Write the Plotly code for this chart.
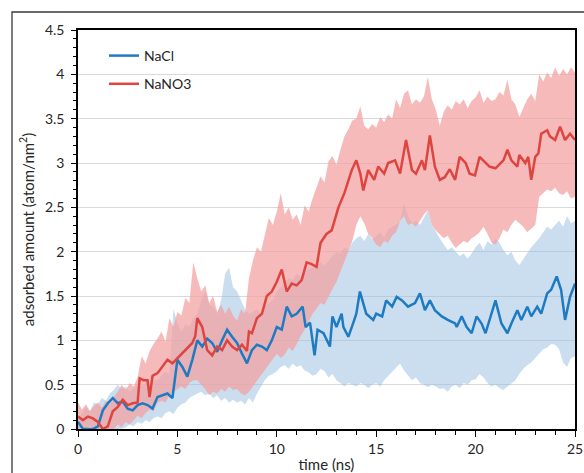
import numpy as np
import plotly.graph_objects as go

# ---------------- data ----------------
band_t = np.round(np.arange(0, 25.001, 0.2), 1)

nano3_upper = [
    0.30, 0.22, 0.28, 0.20, 0.26, 0.30, 0.24, 0.32, 0.28, 0.36,
    0.42, 0.50, 0.44, 0.52, 0.48, 0.58, 0.82, 0.74, 0.88, 0.96,
    1.02, 1.10, 0.98, 1.25, 1.15, 1.32, 1.28, 1.48, 1.42, 1.88,
    1.70, 1.55, 1.62, 1.42, 1.50, 1.32, 1.40, 1.30, 1.38, 1.28,
    1.22, 1.35, 1.30, 1.70, 1.90, 2.05, 2.00, 2.20, 2.38, 2.30,
    2.45, 2.66, 2.42, 2.50, 2.36, 2.42, 2.30, 2.52, 2.45, 2.60,
    2.72, 2.85, 2.78, 3.02, 3.08, 2.98, 3.15, 3.30, 3.38, 3.48,
    3.50, 3.64, 3.42, 3.38, 3.44, 3.40, 3.52, 3.46, 3.55, 3.50,
    3.72, 3.62, 3.78, 3.82, 3.66, 3.72, 3.68, 3.75, 3.97, 3.72,
    3.60, 3.42, 3.58, 3.65, 3.60, 3.70, 3.66, 3.72, 3.62, 3.70,
    3.74, 3.82, 3.68, 3.75, 3.70, 3.72, 3.80, 3.76, 3.94, 3.72,
    3.66, 3.52, 3.62, 3.72, 3.78, 3.70, 4.00, 3.92, 4.02, 3.96,
    4.08, 3.98, 4.06, 4.00, 4.08, 4.02,
]
nano3_lower = [
    0.00, 0.02, 0.00, 0.03, 0.00, 0.00, 0.00, 0.00, 0.00, 0.00,
    0.05, 0.02, 0.08, 0.05, 0.10, 0.15, 0.12, 0.18, 0.22, 0.20,
    0.30, 0.32, 0.30, 0.38, 0.42, 0.45, 0.48, 0.45, 0.52, 0.55,
    0.55, 0.50, 0.45, 0.38, 0.42, 0.40, 0.45, 0.42, 0.48, 0.44,
    0.45, 0.40, 0.38, 0.42, 0.48, 0.55, 0.60, 0.66, 0.72, 0.78,
    0.85, 0.80, 0.84, 0.92, 0.88, 0.96, 1.05, 1.12, 1.22, 1.30,
    1.36, 1.42, 1.40, 1.50, 1.58, 1.66, 1.78, 1.90, 2.02, 2.12,
    2.30, 2.40, 2.32, 2.20, 2.15, 2.08, 2.05, 2.12, 2.10, 2.18,
    2.22, 2.35, 2.40, 2.30, 2.32, 2.28, 2.35, 2.42, 2.47, 2.30,
    2.24, 2.20, 2.15, 2.18, 2.10, 2.04, 2.08, 2.12, 2.10, 2.15,
    2.18, 2.22, 2.28, 2.20, 2.10, 2.08, 2.15, 2.25, 2.22, 2.30,
    2.36, 2.32, 2.28, 2.22, 2.26, 2.30, 2.62, 2.66, 2.70, 2.68,
    2.72, 2.66, 2.64, 2.68, 2.60, 2.62,
]
nacl_upper = [
    0.10, 0.18, 0.25, 0.20, 0.30, 0.28, 0.35, 0.32, 0.40, 0.44,
    0.50, 0.45, 0.48, 0.42, 0.46, 0.50, 0.48, 0.52, 0.50, 0.55,
    0.55, 0.60, 0.65, 0.62, 1.35, 1.20, 1.10, 1.18, 1.15, 1.25,
    1.30, 1.45, 1.55, 1.40, 1.38, 1.30, 1.45, 1.75, 1.82, 1.60,
    1.55, 1.45, 1.35, 1.30, 1.32, 1.35, 1.30, 1.38, 1.42, 1.45,
    1.55, 1.60, 1.65, 1.70, 1.68, 1.75, 1.72, 1.78, 1.80, 1.82,
    1.85, 1.88, 1.84, 1.90, 1.95, 2.00, 1.98, 2.05, 2.02, 2.10,
    2.15, 2.18, 2.12, 2.20, 2.14, 2.18, 2.22, 2.16, 2.25, 2.28,
    2.30, 2.35, 2.55, 2.40, 2.32, 2.35, 2.30, 2.38, 2.47, 2.30,
    2.22, 2.15, 2.08, 2.02, 2.05, 2.00, 1.95, 1.98, 1.92, 1.98,
    2.05, 2.10, 2.02, 2.12, 2.08, 2.15, 2.10, 2.02, 1.96, 2.00,
    1.90, 1.85, 1.92, 1.98, 2.05, 2.10, 2.15, 2.22, 2.28, 2.25,
    2.30, 2.35, 2.28, 2.40, 2.32, 2.35,
]
nacl_lower = [
    0.00, 0.00, 0.00, 0.00, 0.00, 0.00, 0.00, 0.00, 0.00, 0.00,
    0.00, 0.00, 0.02, 0.05, 0.03, 0.08, 0.06, 0.10, 0.08, 0.12,
    0.14, 0.12, 0.18, 0.20, 0.17, 0.24, 0.28, 0.30, 0.35, 0.38,
    0.40, 0.42, 0.38, 0.40, 0.35, 0.38, 0.32, 0.35, 0.30, 0.33,
    0.30, 0.32, 0.28, 0.35, 0.30, 0.40, 0.48, 0.55, 0.60, 0.62,
    0.65, 0.70, 0.72, 0.68, 0.74, 0.70, 0.72, 0.66, 0.64, 0.60,
    0.62, 0.68, 0.65, 0.58, 0.62, 0.55, 0.52, 0.48, 0.52, 0.50,
    0.48, 0.52, 0.50, 0.46, 0.50, 0.52, 0.48, 0.55, 0.60, 0.65,
    0.70, 0.74, 0.66, 0.60, 0.55, 0.58, 0.52, 0.50, 0.47, 0.50,
    0.48, 0.45, 0.46, 0.42, 0.48, 0.50, 0.46, 0.52, 0.50, 0.55,
    0.56, 0.62, 0.58, 0.52, 0.48, 0.50, 0.46, 0.44, 0.48, 0.52,
    0.55, 0.62, 0.68, 0.72, 0.75, 0.80, 0.85, 0.90, 0.92, 0.96,
    0.95, 0.90, 0.75, 0.70, 0.80, 0.82,
]

nano3_t = [0, 0.25, 0.5, 0.75, 1.0, 1.25, 1.5, 1.75, 2.0, 2.25, 2.5, 2.75, 3.0, 3.1, 3.3, 3.5,
           3.6, 3.75, 4.0, 4.25, 4.5, 4.75, 5.0, 5.25, 5.5, 5.75, 5.9, 6.0, 6.25, 6.5, 6.75,
           7.0, 7.25, 7.5, 7.75, 8.0, 8.25, 8.5, 8.6, 8.75, 9.0, 9.25, 9.5, 9.75, 10.0, 10.25,
           10.5, 10.75, 11.0, 11.25, 11.5, 11.75, 12.0, 12.2, 12.5, 12.76, 13.1, 13.4, 13.77,
           14.0, 14.2, 14.35, 14.6, 14.9, 15.1, 15.4, 15.6, 15.95, 16.2, 16.5, 16.8, 17.0,
           17.3, 17.45, 17.7, 17.95, 18.2, 18.45, 18.7, 18.97, 19.2, 19.5, 19.7, 19.97, 20.2,
           20.5, 20.7, 21.0, 21.4, 21.6, 21.8, 22.1, 22.2, 22.5, 22.65, 22.8, 23.0, 23.16,
           23.3, 23.6, 23.74, 24.0, 24.25, 24.5, 24.75, 25.0]
nano3_mean = [0.14, 0.10, 0.14, 0.12, 0.08, 0.0, 0.03, 0.20, 0.25, 0.33, 0.27, 0.29, 0.30, 0.57,
              0.55, 0.55, 0.36, 0.60, 0.63, 0.70, 0.78, 0.74, 0.80, 0.85, 0.91, 0.97, 1.05, 1.25,
              1.15, 0.89, 0.83, 0.93, 0.89, 1.00, 0.93, 0.89, 0.95, 0.88, 1.10, 1.08, 1.25, 1.30,
              1.50, 1.55, 1.66, 1.80, 1.55, 1.64, 1.62, 1.68, 1.88, 1.86, 1.83, 2.10, 2.20, 2.24,
              2.50, 2.66, 2.92, 3.03, 2.88, 2.69, 2.92, 2.81, 2.96, 2.88, 3.00, 3.03, 2.88, 3.26,
              2.92, 2.88, 3.03, 2.92, 3.31, 2.96, 2.81, 2.84, 2.93, 2.81, 3.07, 3.00, 2.88, 2.86,
              3.07, 3.00, 2.96, 2.94, 3.03, 3.15, 3.03, 2.96, 3.09, 3.00, 3.07, 2.81, 3.07, 3.11,
              3.33, 3.37, 3.30, 3.26, 3.41, 3.26, 3.33, 3.26]

nacl_t = [0, 0.25, 0.5, 0.75, 1.0, 1.25, 1.5, 1.75, 2.0, 2.25, 2.5, 2.75, 3.0, 3.25, 3.5, 3.75,
          4.0, 4.25, 4.5, 4.75, 5.0, 5.25, 5.5, 5.75, 6.0, 6.25, 6.5, 6.75, 7.0, 7.25, 7.5,
          7.75, 8.0, 8.25, 8.5, 8.75, 9.0, 9.25, 9.5, 9.75, 10.0, 10.25, 10.5, 10.75, 11.0,
          11.3, 11.45, 11.67, 11.9, 12.05, 12.35, 12.67, 12.8, 13.0, 13.26, 13.35, 13.6,
          13.85, 14.0, 14.18, 14.5, 14.85, 15.0, 15.3, 15.5, 15.8, 16.03, 16.3, 16.6, 16.95,
          17.2, 17.45, 17.7, 17.95, 18.3, 18.6, 18.97, 19.05, 19.3, 19.55, 19.8, 20.05, 20.3,
          20.5, 20.7, 21.0, 21.3, 21.6, 21.8, 22.1, 22.3, 22.6, 22.8, 23.1, 23.3, 23.6, 23.8,
          24.08, 24.3, 24.5, 24.75, 25.0]
nacl_mean = [0.08, 0.0, 0.0, 0.0, 0.03, 0.21, 0.29, 0.35, 0.29, 0.31, 0.23, 0.21, 0.27, 0.29,
             0.27, 0.23, 0.36, 0.38, 0.40, 0.35, 0.78, 0.70, 0.59, 0.78, 1.00, 0.93, 1.02, 0.97,
             0.87, 1.00, 1.12, 1.04, 0.97, 0.85, 0.74, 0.89, 0.95, 0.93, 0.89, 1.00, 1.15, 1.12,
             1.38, 1.27, 1.30, 1.38, 1.15, 1.20, 0.83, 1.12, 1.08, 0.93, 1.27, 1.15, 1.30, 1.15,
             1.04, 1.20, 1.30, 1.55, 1.30, 1.23, 1.30, 1.27, 1.45, 1.38, 1.49, 1.45, 1.38, 1.42,
             1.53, 1.34, 1.45, 1.34, 1.27, 1.23, 1.19, 1.15, 1.27, 1.15, 1.08, 1.27, 1.19, 1.08,
             1.23, 1.45, 1.19, 1.08, 1.19, 1.34, 1.23, 1.38, 1.27, 1.38, 1.30, 1.53, 1.57, 1.72,
             1.57, 1.23, 1.49, 1.64]

# ---------------- figure ----------------
BLUE = "#1F7BC1"
RED = "#DF4540"
FONT = "Lato"

fig = go.Figure()
fig.add_trace(go.Scatter(x=band_t, y=nacl_lower, mode="lines", line=dict(width=0),
                         showlegend=False, hoverinfo="skip"))
fig.add_trace(go.Scatter(x=band_t, y=nacl_upper, mode="lines", line=dict(width=0),
                         fill="tonexty", fillcolor="rgba(150,190,225,0.5)",
                         showlegend=False, hoverinfo="skip"))
fig.add_trace(go.Scatter(x=band_t, y=nano3_lower, mode="lines", line=dict(width=0),
                         showlegend=False, hoverinfo="skip"))
fig.add_trace(go.Scatter(x=band_t, y=nano3_upper, mode="lines", line=dict(width=0),
                         fill="tonexty", fillcolor="rgba(242,160,160,0.72)",
                         showlegend=False, hoverinfo="skip"))
fig.add_trace(go.Scatter(x=nacl_t, y=nacl_mean, mode="lines", name="NaCl",
                         line=dict(color=BLUE, width=2.5), legendgroup="a"))
fig.add_trace(go.Scatter(x=nano3_t, y=nano3_mean, mode="lines", name="NaNO3",
                         line=dict(color=RED, width=2.5), legendgroup="b"))

L, R, T, B = 78, 575, 30, 429
W, H = 584, 473
pw, ph = R - L, B - T

fig.update_layout(
    width=W, height=H,
    margin=dict(l=L, r=W - R, t=T, b=H - B, autoexpand=False),
    paper_bgcolor="white", plot_bgcolor="white",
    font=dict(family=FONT, size=14, color="#262626"),
    showlegend=True,
    legend=dict(x=(104 - L) / pw, y=(B - 40) / ph, xanchor="left", yanchor="top",
                bgcolor="rgba(0,0,0,0)", font=dict(size=14, color="#262626"),
                tracegroupgap=7, itemwidth=30, traceorder="grouped"),
    xaxis=dict(range=[0, 25], tick0=0, dtick=5, ticks="outside", ticklen=6,
               tickwidth=1.3, tickcolor="#000", showline=True, linecolor="#000",
               linewidth=1.5, mirror=True, showgrid=False, zeroline=False,
               minor=dict(dtick=1, ticks="outside", ticklen=4, tickcolor="#000",
                          tickwidth=1.2, showgrid=False),
               title=dict(text="time (ns)", font=dict(size=15), standoff=5),
               automargin=False),
    yaxis=dict(range=[0, 4.5], tick0=0, dtick=0.5, ticks="outside", ticklen=5,
               tickwidth=1.3, tickcolor="#000", showline=True, linecolor="#000",
               linewidth=1.5, mirror=True, showgrid=True, gridcolor="#D9D9D9",
               gridwidth=1, zeroline=False, ticklabelstandoff=4,
               minor=dict(dtick=0.1, ticks="outside", ticklen=3, tickcolor="#000",
                          tickwidth=1, showgrid=False),
               title=dict(text="adsorbed amount (atom/nm<sup>2</sup>)",
                          font=dict(size=15), standoff=7),
               automargin=False),
)

# outer chart-area border
fig.add_shape(type="rect", xref="paper", yref="paper",
              x0=(12 - L) / pw, x1=(700 - L) / pw,
              y0=(B - 600) / ph, y1=(B - 12) / ph,
              line=dict(color="#3A3A3A", width=1.3), fillcolor="rgba(0,0,0,0)", layer="below")

fig.write_html("out.html", config={"displayModeBar": False},
               post_script="document.body.style.margin='0';document.body.style.overflow='hidden';")
